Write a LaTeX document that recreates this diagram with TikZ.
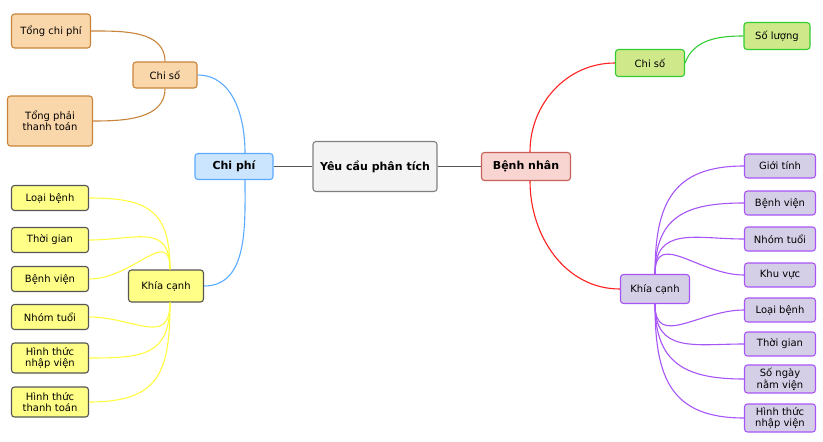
\documentclass[tikz,border=0pt]{standalone}
\usepackage{fontspec}
\setmainfont{DejaVu Sans}
\definecolor{rootfill}{HTML}{F3F3F3}
\definecolor{rootline}{HTML}{808080}
\definecolor{bluefill}{HTML}{CCE5FF}
\definecolor{blueline}{HTML}{5AAAFF}
\definecolor{redfill}{HTML}{F8D5D0}
\definecolor{redline}{HTML}{C8605A}
\definecolor{redlink}{HTML}{FF2020}
\definecolor{brownfill}{HTML}{FAD7AA}
\definecolor{brownline}{HTML}{C8843A}
\definecolor{yelfill}{HTML}{FFFF88}
\definecolor{yelline}{HTML}{555555}
\definecolor{yellink}{HTML}{FFFF40}
\definecolor{greenfill}{HTML}{CFE98A}
\definecolor{greenline}{HTML}{33CC33}
\definecolor{purpfill}{HTML}{D4CFE6}
\definecolor{purpline}{HTML}{A855F7}
\begin{document}
\begin{tikzpicture}[x=1pt,y=1pt,
  box/.style={draw,rounded corners=3pt,line width=1.1pt,align=center,inner sep=2pt,
    font=\fontsize{10}{11.5}\selectfont},
  mainbox/.style={box,font=\fontsize{11}{13}\selectfont\bfseries},
  link/.style={line width=1.1pt},
  brownbox/.style={box,fill=brownfill,draw=brownline},
  yelbox/.style={box,fill=yelfill,draw=yelline,minimum width=77pt},
  greenbox/.style={box,fill=greenfill,draw=greenline},
  purpbox/.style={box,fill=purpfill,draw=purpline,minimum width=71pt}]
\useasboundingbox (0,0) rectangle (823,-442);
% main row
\node[mainbox,fill=rootfill,draw=rootline,minimum width=124pt,minimum height=50pt] (root) at (375,-166.5) {Yêu cầu phân tích};
\node[mainbox,fill=bluefill,draw=blueline,minimum width=78pt,minimum height=26pt] (cp) at (234,-166.5) {Chi phí};
\node[mainbox,fill=redfill,draw=redline,minimum width=89pt,minimum height=28pt] (bn) at (526,-166.5) {Bệnh nhân};
\draw[link,draw=yelline] (cp.east) -- (root.west);
\draw[link,draw=yelline] (root.east) -- (bn.west);
% left side: Chi phi
\node[brownbox,minimum width=64pt,minimum height=26pt] (lcs) at (165,-75) {Chi số};
\node[brownbox,minimum width=79pt,minimum height=34pt] (ltc) at (51,-31) {Tổng chi phí};
\node[brownbox,minimum width=85pt,minimum height=50pt] (ltp) at (50,-121) {Tổng phải\\thanh toán};
\node[yelbox,minimum width=75pt,minimum height=32pt] (lkc) at (166,-286) {Khía cạnh};
\draw[link,draw=blueline] ([xshift=11pt]cp.north) to[out=90,in=0] (lcs.east);
\draw[link,draw=blueline] ([xshift=11pt]cp.south) to[out=270,in=0] (lkc.east);
\draw[link,draw=brownline] (lcs.north) to[out=90,in=0] (ltc.east);
\draw[link,draw=brownline] (lcs.south) to[out=270,in=0] (ltp.east);
\foreach \y/\t/\n in {198/Loại bệnh/a, 240/Thời gian/b, 279/Bệnh viện/c} % edit here for leaves above
{
\node[yelbox,minimum height=25pt] (ll\n) at (50,-\y) {\t};
\draw[link,draw=yellink] ([xshift=4pt]lkc.north) to[out=90,in=0,looseness=1.4] (ll\n.east);
}
\foreach \y/\t/\h/\n in {317/Nhóm tuổi/25/d, 358/Hình thức\\nhập viện/30/e, 402/Hình thức\\thanh toán/30/f} % edit here for leaves below
{
\node[yelbox,minimum height=\h pt] (ll\n) at (50,-\y) {\t};
\draw[link,draw=yellink] ([xshift=4pt]lkc.south) to[out=270,in=0,looseness=1.4] (ll\n.east);
}
% right side: Benh nhan
\node[greenbox,minimum width=69pt,minimum height=27pt] (rcs) at (650,-63) {Chi số};
\node[greenbox,minimum width=66pt,minimum height=27pt] (rsl) at (777,-36) {Số lượng};
\node[purpbox,minimum width=69pt,minimum height=29pt] (rkc) at (655,-289) {Khía cạnh};
\draw[link,draw=redlink] ([xshift=4pt]bn.north) to[out=90,in=180] (rcs.west);
\draw[link,draw=redlink] ([xshift=4pt]bn.south) to[out=270,in=180] (rkc.west);
\draw[link,draw=greenline] (rcs.east) to[out=70,in=180] (rsl.west);
\foreach \y/\t/\n in {166/Giới tính/a, 203/Bệnh viện/b, 239/Nhóm tuổi/c, 275/Khu vực/d} % edit here for leaves above
{
\node[purpbox,minimum height=24pt] (rl\n) at (780,-\y) {\t};
\draw[link,draw=purpline] (rkc.north) to[out=90,in=180,looseness=1.3] (rl\n.west);
}
\foreach \y/\t/\h/\n in {310/Loại bệnh/24/e, 344/Thời gian/24/f, 379/Số ngày\\nằm viện/28/g, 418/Hình thức\\nhập viện/28/h} % edit here for leaves below
{
\node[purpbox,minimum height=\h pt] (rl\n) at (780,-\y) {\t};
\draw[link,draw=purpline] (rkc.south) to[out=270,in=180,looseness=1.3] (rl\n.west);
}
\end{tikzpicture}
\end{document}
